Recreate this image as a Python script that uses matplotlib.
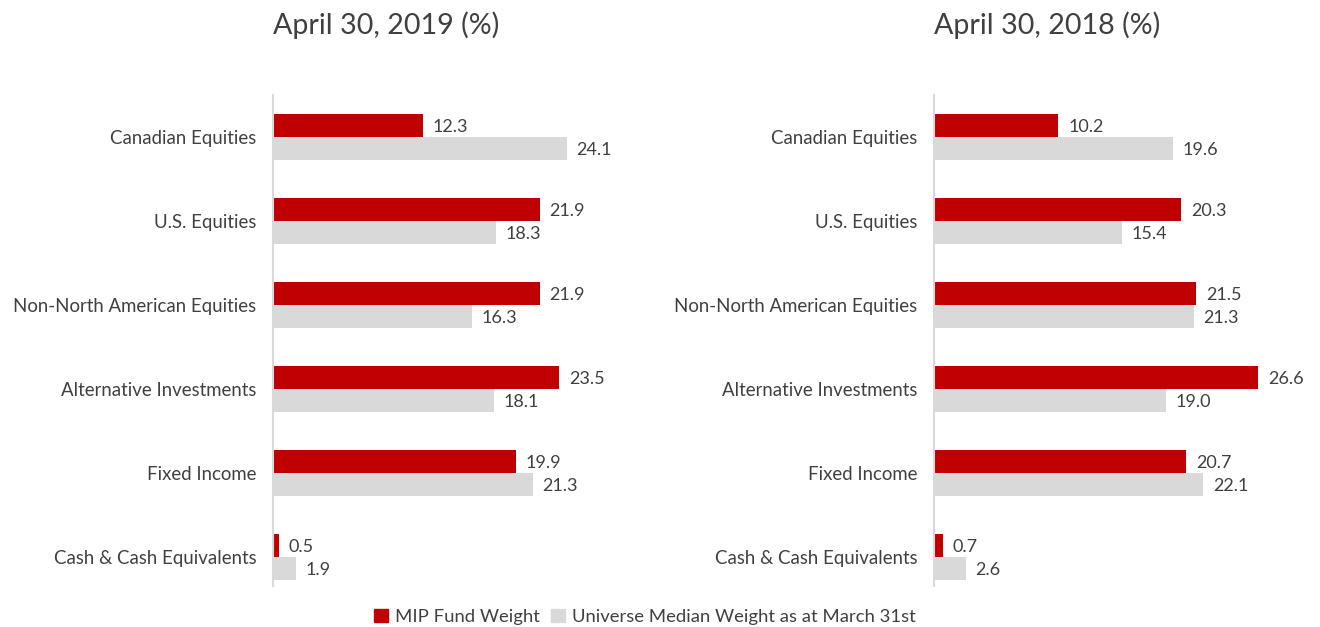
import numpy as np
import matplotlib
matplotlib.use("Agg")
from matplotlib import pyplot as plt
from matplotlib.patches import Patch

plt.rcParams['font.family'] = ['Lato', 'DejaVu Sans']

categories = ["Canadian Equities", "U.S. Equities", "Non-North American Equities",
              "Alternative Investments", "Fixed Income", "Cash & Cash Equivalents"]
fund_2019 = [12.3, 21.9, 21.9, 23.5, 19.9, 0.5]
median_2019 = [24.1, 18.3, 16.3, 18.1, 21.3, 1.9]
fund_2018 = [10.2, 20.3, 21.5, 26.6, 20.7, 0.7]
median_2018 = [19.6, 15.4, 21.3, 19.0, 22.1, 2.6]
titles = ["April 30, 2019 (%)", "April 30, 2018 (%)"]
legend_labels = ["MIP Fund Weight", "Universe Median Weight as at March 31st"]

red = "#C00000"
grey = "#D9D9D9"
txt = "#404040"

fig = plt.figure(figsize=(13.2, 6.27), dpi=100)
ax1 = fig.add_axes([0.2068, 0.0654, 0.2770, 0.7831])
ax2 = fig.add_axes([0.7076, 0.0654, 0.2770, 0.7831])

y = np.arange(len(categories))
h = 0.27

for ax, fund, med, title in [(ax1, fund_2019, median_2019, titles[0]),
                             (ax2, fund_2018, median_2018, titles[1])]:
    ax.barh(y - h / 2, fund, height=h, color=red)
    ax.barh(y + h / 2, med, height=h, color=grey)
    for i in range(len(categories)):
        ax.text(fund[i] + 0.8, y[i] - h / 2 + 0.02, "%.1f" % fund[i], va="center",
                ha="left", fontsize=13, color=txt)
        ax.text(med[i] + 0.8, y[i] + h / 2 + 0.02, "%.1f" % med[i], va="center",
                ha="left", fontsize=13, color=txt)
    ax.set_xlim(0, 30)
    ax.set_ylim(5.345, -0.5)
    ax.set_yticks(y)
    ax.set_yticklabels(categories, fontsize=13.4, color=txt)
    ax.tick_params(axis="y", length=0, pad=12)
    ax.set_xticks([])
    for s in ["top", "right", "bottom"]:
        ax.spines[s].set_visible(False)
    ax.spines["left"].set_color(grey)
    ax.spines["left"].set_linewidth(1.5)
    ax.text(0, 1.1426, title, transform=ax.transAxes, fontsize=20.6, color=txt,
            ha="left", va="center")

handles = [Patch(color=red), Patch(color=grey)]
fig.legend(handles, legend_labels, loc="center", bbox_to_anchor=(0.4886, 0.016),
           ncol=2, frameon=False, fontsize=13.3, handlelength=0.75, handleheight=0.75,
           handletextpad=0.4, columnspacing=0.6, labelcolor=txt)

fig.savefig("out.png", dpi=100)
